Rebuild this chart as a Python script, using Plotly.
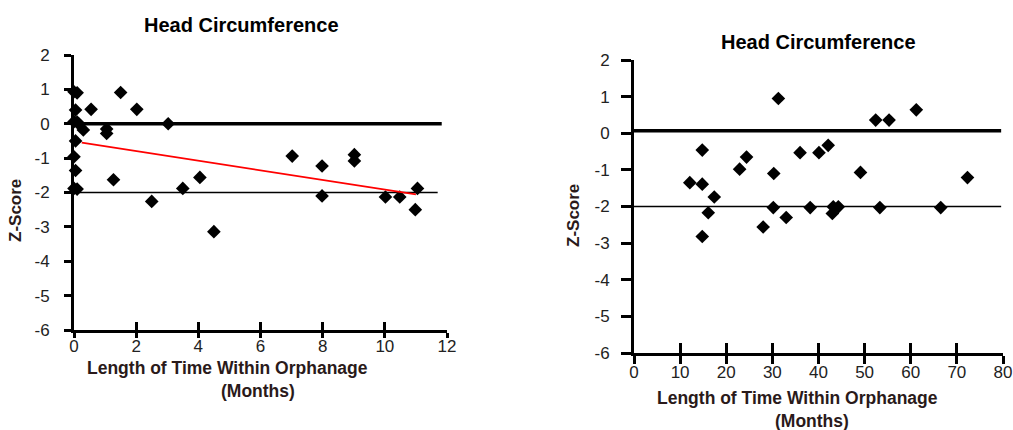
import plotly.graph_objects as go

# ---- data ----
left_months = [0, 0.1, 0.05, 0, 0.1, 0.15, 0.3, 0.55, 0.05, 0, 0.05, 0, 0.1,
               1.05, 1.05, 1.27, 1.5, 2.02, 2.5, 3.03, 3.5, 4.05, 4.5,
               7.02, 7.98, 7.98, 9.02, 9.02, 10.02, 10.48, 10.98, 11.05]
left_z = [0.93, 0.9, 0.4, 0.06, 0.05, 0.0, -0.18, 0.42, -0.5, -0.96, -1.36, -1.88, -1.9,
          -0.15, -0.28, -1.63, 0.91, 0.42, -2.26, 0.0, -1.88, -1.56, -3.14,
          -0.94, -1.23, -2.1, -0.9, -1.08, -2.13, -2.13, -2.5, -1.88]

right_months = [12.1, 14.8, 14.8, 14.8, 16.1, 17.4, 22.9, 24.4, 28.0, 30.2, 30.3,
                31.3, 33.0, 36.0, 38.2, 40.1, 42.1, 43.0, 43.2, 44.3, 49.1, 52.4,
                53.3, 55.3, 61.2, 66.5, 72.3]
right_z = [-1.35, -0.46, -1.39, -2.82, -2.17, -1.74, -0.98, -0.65, -2.56, -2.03, -1.10,
           0.95, -2.30, -0.53, -2.03, -0.53, -0.33, -2.19, -2.01, -2.01, -1.07, 0.36,
           -2.03, 0.36, 0.64, -2.03, -1.21]

# trend line (left panel)
trend_x = [0.25, 11.0]
trend_intercept = -0.515
trend_slope = -0.14

# reference levels: (z level, x end, width)
left_ref = [(0.0, 11.83, 3.5), (-2.0, 11.7, 1.6)]
right_ref = [(0.07, 79.6, 3.5), (-2.0, 79.6, 1.6)]

left_xticks = [0, 2, 4, 6, 8, 10, 12]
right_xticks = [0, 10, 20, 30, 40, 50, 60, 70, 80]
yticks = [2, 1, 0, -1, -2, -3, -4, -5, -6]
ytick_labels = ["2", "1", "0", "-1", "-2", "-3", "-4", "-5", "-6"]

title_text = "Head Circumference"
xtitle_line1 = "Length of Time Within Orphanage"
xtitle_line2 = "(Months)"
ytitle = "Z-Score"

FONT = "Arial, Liberation Sans, sans-serif"
TXT = "#2a1a1a"

fig = go.Figure()

marker = dict(symbol="diamond", size=10.5, color="black")
fig.add_trace(go.Scatter(x=left_months, y=left_z, mode="markers", marker=marker,
                         xaxis="x", yaxis="y", cliponaxis=False, showlegend=False))
fig.add_trace(go.Scatter(x=right_months, y=right_z, mode="markers", marker=marker,
                         xaxis="x2", yaxis="y2", cliponaxis=False, showlegend=False))
trend_y = [trend_intercept + trend_slope * v for v in trend_x]
fig.add_trace(go.Scatter(x=trend_x, y=trend_y, mode="lines",
                         line=dict(color="#ff0000", width=1.6),
                         xaxis="x", yaxis="y", showlegend=False))
# invisible traces so the overlay tick axes get drawn
fig.add_trace(go.Scatter(x=[left_xticks[0]], y=[yticks[0]], mode="markers",
                         marker=dict(opacity=0), xaxis="x3", yaxis="y", showlegend=False,
                         hoverinfo="skip"))
fig.add_trace(go.Scatter(x=[right_xticks[0]], y=[yticks[0]], mode="markers",
                         marker=dict(opacity=0), xaxis="x4", yaxis="y2", showlegend=False,
                         hoverinfo="skip"))

shapes = []
for lvl, xe, w in left_ref:
    shapes.append(dict(type="line", xref="x", yref="y", x0=0, x1=xe, y0=lvl, y1=lvl,
                       line=dict(color="black", width=w), layer="below"))
for lvl, xe, w in right_ref:
    shapes.append(dict(type="line", xref="x2", yref="y2", x0=0, x1=xe, y0=lvl, y1=lvl,
                       line=dict(color="black", width=w), layer="below"))

TICKFONT = dict(family=FONT, size=17, color="#222")

def xax(domain, ticks, anchor, ticklen, standoff):
    return dict(domain=domain, range=[ticks[0], ticks[-1]], tickvals=ticks,
                anchor=anchor, showgrid=False, zeroline=False, showline=True,
                linecolor="black", linewidth=3, ticks="outside", ticklen=ticklen,
                tickwidth=3, tickcolor="black", automargin=False, tickfont=TICKFONT,
                ticklabelstandoff=standoff)

def yax(domain, anchor, ticklen, standoff):
    return dict(domain=domain, range=[-6, 2], tickvals=yticks, ticktext=ytick_labels,
                anchor=anchor, showgrid=False, zeroline=False, showline=True,
                linecolor="black", linewidth=3, ticks="outside", ticklen=ticklen,
                tickwidth=3, tickcolor="black", ticklabelstandoff=standoff,
                automargin=False, tickfont=TICKFONT)

def overlay(ticks, over, anchor, ticklen):
    return dict(overlaying=over, anchor=anchor, range=[ticks[0], ticks[-1]],
                tickvals=ticks, showgrid=False, zeroline=False, showline=False,
                ticks="inside", ticklen=ticklen, tickwidth=3, tickcolor="black",
                showticklabels=False, automargin=False)

W, H = 1013, 430
lx0, lx1, ly0, ly1 = 74, 447, 55, 330
rx0, rx1, ry0, ry1 = 634, 1003, 60, 353

fig.update_layout(
    width=W, height=H, margin=dict(l=0, r=0, t=0, b=0, autoexpand=False),
    paper_bgcolor="white", plot_bgcolor="white",
    xaxis=xax([lx0 / W, lx1 / W], left_xticks, "y", 5, -6),
    yaxis=yax([1 - ly1 / H, 1 - ly0 / H], "x", 7, 11),
    xaxis2=xax([rx0 / W, rx1 / W], right_xticks, "y2", 8, -6),
    yaxis2=yax([1 - ry1 / H, 1 - ry0 / H], "x2", 10, 8),
    xaxis3=overlay(left_xticks, "x", "y", 8),
    xaxis4=overlay(right_xticks, "x2", "y2", 10),
    shapes=shapes,
    font=dict(family=FONT),
)

ann = []
def txt(x, y, s, size, bold=True, angle=0, color=TXT):
    ann.append(dict(x=x / W, y=1 - y / H, xref="paper", yref="paper",
                    text=(f"<b>{s}</b>" if bold else s),
                    showarrow=False, xanchor="center", yanchor="middle", textangle=angle,
                    font=dict(family=FONT, size=size, color=color)))

txt(241, 25, title_text, 20, color="black")
txt(818, 42, title_text, 20, color="black")
txt(15, 211, ytitle, 17, angle=-90)
txt(573, 216, ytitle, 17, angle=-90)
txt(227, 368, xtitle_line1, 17.5)
txt(258, 391, xtitle_line2, 17.5)
txt(797, 398, xtitle_line1, 17.5)
txt(812, 421, xtitle_line2, 17.5)
fig.update_layout(annotations=ann)

fig.write_html("out.html", config={"displayModeBar": False},
               post_script="document.body.style.margin='0';document.body.style.padding='0';")
